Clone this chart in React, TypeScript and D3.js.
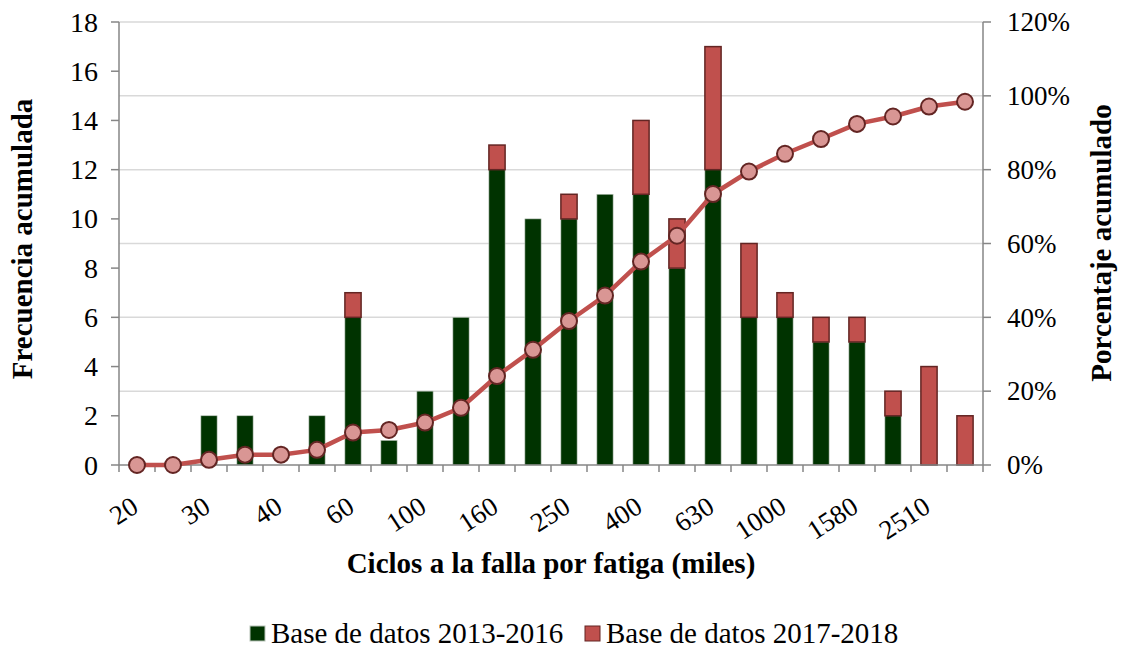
import React, { useEffect, useRef } from 'react';
import * as d3 from 'd3';

// ciclos a la falla (miles), solo se rotulan las categorias pares
const categories = ['20', '25', '30', '35', '40', '50', '60', '80', '100', '125', '160', '200',
  '250', '315', '400', '500', '630', '795', '1000', '1260', '1580', '2000', '2510', '3160'];
const base2013 = [0, 0, 2, 2, 0, 2, 6, 1, 3, 6, 12, 10, 10, 11, 11, 8, 12, 6, 6, 5, 5, 2, 0, 0];
const base2017 = [0, 0, 0, 0, 0, 0, 1, 0, 0, 0, 1, 0, 1, 0, 3, 2, 5, 3, 1, 1, 1, 1, 4, 2];
const cumPct = [0, 0, 1.4, 2.8, 2.8, 4.1, 8.8, 9.5, 11.5, 15.5, 24.1, 31.2, 39.0, 45.9, 55.1, 62.1,
  73.4, 79.5, 84.3, 88.3, 92.4, 94.4, 97.1, 98.4];
const leftTicks = [0, 2, 4, 6, 8, 10, 12, 14, 16, 18];
const rightTicks = [0, 20, 40, 60, 80, 100, 120];
const seriesNames = ['Base de datos 2013-2016', 'Base de datos 2017-2018'];

const FONT = '"Liberation Serif", "Times New Roman", serif';

export default function App() {
  const ref = useRef<SVGSVGElement>(null);

  useEffect(() => {
    const svg = d3.select(ref.current);
    svg.selectAll('*').remove();

    const margin = { top: 22, right: 139, bottom: 185, left: 119 };
    const width = 1122, height = 650;
    const innerWidth = width - margin.left - margin.right;
    const innerHeight = height - margin.top - margin.bottom;

    const g = svg.append('g').attr('transform', `translate(${margin.left},${margin.top})`);

    const x = d3.scaleBand().domain(categories).range([0, innerWidth])
      .paddingInner(0.55).paddingOuter(0.275);
    const yLeft = d3.scaleLinear().domain([0, 18]).range([innerHeight, 0]);
    const yRight = d3.scaleLinear().domain([0, 120]).range([innerHeight, 0]);
    const step = x.step();
    const cx = (c: string) => (x(c) as number) + x.bandwidth() / 2;

    // gridlines (siguen al eje derecho)
    g.selectAll('line.grid').data(rightTicks.slice(1)).enter().append('line')
      .attr('class', 'grid')
      .attr('x1', 0).attr('x2', innerWidth)
      .attr('y1', d => yRight(d)).attr('y2', d => yRight(d))
      .attr('stroke', '#d9d9d9').attr('stroke-width', 1.5);

    // stacked bars
    const data = categories.map((c, i) => ({ cat: c, a: base2013[i], b: base2017[i] }));
    const stacked = d3.stack<any>().keys(['a', 'b'])(data);
    const fills = ['#003300', '#c0504d'];
    const strokes = ['#b8c4b8', '#632523'];
    stacked.forEach((s, k) => {
      g.append('g').selectAll('rect').data(s.filter(d => d[1] - d[0] > 0)).enter().append('rect')
        .attr('x', d => x(d.data.cat) as number)
        .attr('y', d => yLeft(d[1]))
        .attr('width', x.bandwidth())
        .attr('height', d => yLeft(d[0]) - yLeft(d[1]))
        .attr('fill', fills[k])
        .attr('stroke', strokes[k])
        .attr('stroke-width', k === 0 ? 0.6 : 1.5);
    });

    // axes
    const axisColor = '#868686';
    g.append('line').attr('x1', 0).attr('x2', 0).attr('y1', 0).attr('y2', innerHeight)
      .attr('stroke', axisColor).attr('stroke-width', 1.5);
    g.append('line').attr('x1', innerWidth).attr('x2', innerWidth).attr('y1', 0).attr('y2', innerHeight)
      .attr('stroke', axisColor).attr('stroke-width', 1.5);
    g.append('line').attr('x1', 0).attr('x2', innerWidth).attr('y1', innerHeight).attr('y2', innerHeight)
      .attr('stroke', axisColor).attr('stroke-width', 1.5);

    g.selectAll('line.lt').data(leftTicks).enter().append('line')
      .attr('x1', -8).attr('x2', 0).attr('y1', d => yLeft(d)).attr('y2', d => yLeft(d))
      .attr('stroke', axisColor).attr('stroke-width', 1.5);
    g.selectAll('text.lt').data(leftTicks).enter().append('text')
      .attr('x', -21).attr('y', d => yLeft(d)).attr('dy', '0.34em')
      .attr('text-anchor', 'end').attr('font-family', FONT).attr('font-size', 28)
      .text(d => d);

    g.selectAll('line.rt').data(rightTicks).enter().append('line')
      .attr('x1', innerWidth).attr('x2', innerWidth + 8).attr('y1', d => yRight(d)).attr('y2', d => yRight(d))
      .attr('stroke', axisColor).attr('stroke-width', 1.5);
    g.selectAll('text.rt').data(rightTicks).enter().append('text')
      .attr('x', innerWidth + 24).attr('y', d => yRight(d)).attr('dy', '0.34em')
      .attr('font-family', FONT).attr('font-size', 27)
      .text(d => d + '%');

    // ticks at category boundaries
    const bounds = d3.range(categories.length + 1).map(i => i * step);
    g.selectAll('line.bt').data(bounds).enter().append('line')
      .attr('x1', d => d).attr('x2', d => d).attr('y1', innerHeight).attr('y2', innerHeight + 7)
      .attr('stroke', axisColor).attr('stroke-width', 1.5);

    g.selectAll('text.cat').data(categories.filter((c, i) => i % 2 === 0)).enter().append('text')
      .attr('transform', d => `translate(${cx(d) + 3},${innerHeight + 46}) rotate(-33)`)
      .attr('text-anchor', 'end').attr('font-family', FONT).attr('font-size', 27)
      .text(d => d);

    // cumulative line
    const line = d3.line<number>().x((d, i) => cx(categories[i])).y(d => yRight(d));
    g.append('path').datum(cumPct).attr('d', line)
      .attr('fill', 'none').attr('stroke', '#c0504d').attr('stroke-width', 4.5)
      .attr('stroke-linejoin', 'round');
    g.selectAll('circle').data(cumPct).enter().append('circle')
      .attr('cx', (d, i) => cx(categories[i])).attr('cy', d => yRight(d)).attr('r', 8)
      .attr('fill', '#d99694').attr('stroke', '#632523').attr('stroke-width', 2);

    // titles
    svg.append('text').attr('x', 551).attr('y', 573).attr('text-anchor', 'middle')
      .attr('font-family', FONT).attr('font-size', 29).attr('font-weight', 'bold')
      .text('Ciclos a la falla por fatiga (miles)');
    svg.append('text').attr('transform', 'translate(32,239) rotate(-90)').attr('text-anchor', 'middle')
      .attr('font-family', FONT).attr('font-size', 29).attr('font-weight', 'bold')
      .text('Frecuencia acumulada');
    svg.append('text').attr('transform', 'translate(1111,243) rotate(-90)').attr('text-anchor', 'middle')
      .attr('font-family', FONT).attr('font-size', 29).attr('font-weight', 'bold')
      .text('Porcentaje acumulado');

    // legend
    const lx = [250, 585];
    seriesNames.forEach((name, k) => {
      svg.append('rect').attr('x', lx[k]).attr('y', 626).attr('width', 15).attr('height', 15)
        .attr('fill', fills[k]).attr('stroke', k === 0 ? '#b8c4b8' : '#632523').attr('stroke-width', 1);
      svg.append('text').attr('x', lx[k] + 21).attr('y', 643)
        .attr('font-family', FONT).attr('font-size', 29)
        .text(name);
    });
  }, []);

  return (
    <div style={{ position: 'absolute', left: 0, top: 0 }}>
      <svg ref={ref} width={1122} height={650} style={{ display: 'block', background: '#fff' }} />
    </div>
  );
}
